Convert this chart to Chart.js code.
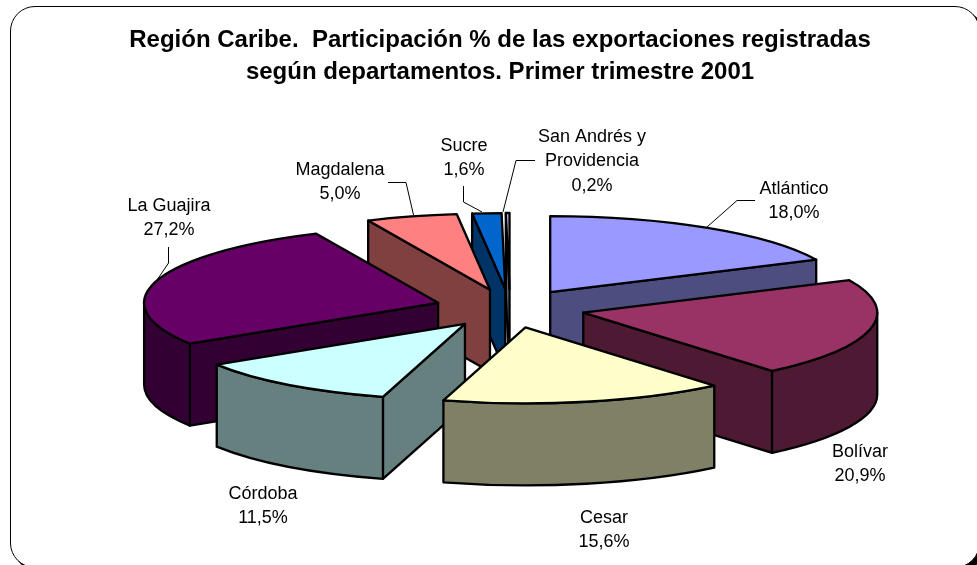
<!DOCTYPE html>
<html>
<head>
<meta charset="utf-8">
<title>Región Caribe</title>
<script src="https://cdn.jsdelivr.net/npm/chart.js@4"></script>
<style>
  html, body { margin: 0; height: 100%; overflow: hidden; background: #fff; }
  #frame { position: absolute; left: 10px; top: 6px; width: 970px; height: 562px; box-sizing: border-box;
           background: #fff; border: 1.5px solid #000; border-radius: 25px; box-shadow: 4px 4px 0 #000; }
  #chart { position: absolute; left: 0; top: 0; }
</style>
</head>
<body>
<div id="frame"></div>
<canvas id="chart" width="977" height="565"></canvas>
<script>
// Datos
const categories = ['Atlántico', 'Bolívar', 'Cesar', 'Córdoba', 'La Guajira', 'Magdalena', 'Sucre', 'San Andrés y\nProvidencia'];
const shares = [18.0, 20.9, 15.6, 11.5, 27.2, 5.0, 1.6, 0.2];
const sliceColors = ['#9999FF', '#993366', '#FFFFCC', '#CCFFFF', '#660066', '#FF8080', '#0066CC', '#CCCCFF'];
const sideColors = ['#4D4D80', '#4D1933', '#808066', '#668080', '#330033', '#804040', '#003366', '#666680'];
const titleLines = ['Región Caribe.  Participación % de las exportaciones registradas', 'según departamentos. Primer trimestre 2001'];

// Posicion de cada rotulo (centro de la primera linea) y su linea guia
const labelAnchors = [[794, 189], [860, 452], [604, 518], [263, 494], [169, 206], [340, 170], [464, 146], [592, 137]];
const leaders = [
  [[755, 200.5], [737, 200.5], [707, 227]],
  null,
  null,
  null,
  [[168.5, 247], [168.5, 263], [157, 280]],
  [[388, 182.5], [406, 182.5], [413.5, 215]],
  [[463.5, 186], [463.5, 202], [482, 212]],
  [[535, 160.5], [516, 160.5], [503, 212]]
];

// Geometria del pastel 3D
const tilt = 0.2585;
const explode = 75;
const depth = 82;
const shiftX = 10;

function faceStroke(ctx, color) {
  ctx.fillStyle = color;
  ctx.fill();
  ctx.stroke();
}

function drawSlice(ctx, arc, index) {
  const R = arc.outerRadius;
  const a0 = arc.startAngle;
  const a1 = arc.endAngle;
  const mid = (a0 + a1) / 2;
  const tx = arc.x + shiftX + explode * Math.cos(mid);
  const ty = arc.y + explode * Math.sin(mid) * tilt;

  const radialWall = (a) => {
    const ex = tx + R * Math.cos(a);
    const ey = ty + R * Math.sin(a) * tilt;
    ctx.beginPath();
    ctx.moveTo(tx, ty);
    ctx.lineTo(ex, ey);
    ctx.lineTo(ex, ey + depth);
    ctx.lineTo(tx, ty + depth);
    ctx.closePath();
    faceStroke(ctx, sideColors[index]);
  };

  // solo las caras que miran al frente
  if (Math.cos(a0) < 0) radialWall(a0);
  if (Math.cos(a1) > 0) radialWall(a1);

  const r0 = Math.max(a0, 0);
  const r1 = Math.min(a1, Math.PI);
  if (r1 > r0) {
    ctx.beginPath();
    ctx.ellipse(tx, ty, R, R * tilt, 0, r0, r1);
    ctx.ellipse(tx, ty + depth, R, R * tilt, 0, r1, r0, true);
    ctx.closePath();
    faceStroke(ctx, sideColors[index]);
  }

  ctx.beginPath();
  ctx.moveTo(tx, ty);
  ctx.ellipse(tx, ty, R, R * tilt, 0, a0, a1);
  ctx.closePath();
  faceStroke(ctx, sliceColors[index]);
}

const pie3d = {
  id: 'pie3d',
  beforeDatasetsDraw(chart) {
    const ctx = chart.ctx;
    const arcs = chart.getDatasetMeta(0).data;
    const order = arcs.map((arc, i) => i).sort((a, b) => {
      const mid = (arc) => (arc.startAngle + arc.endAngle) / 2;
      return Math.sin(mid(arcs[a])) - Math.sin(mid(arcs[b]));
    });
    ctx.save();
    ctx.strokeStyle = '#000';
    ctx.lineWidth = 2.3;
    ctx.lineJoin = 'round';
    order.forEach((i) => drawSlice(ctx, arcs[i], i));
    ctx.restore();
    return false;
  },
  afterDraw(chart) {
    const ctx = chart.ctx;
    ctx.save();
    ctx.strokeStyle = '#000';
    ctx.lineWidth = 1;
    leaders.forEach((points) => {
      if (!points) return;
      ctx.beginPath();
      points.forEach((p, i) => (i ? ctx.lineTo(p[0], p[1]) : ctx.moveTo(p[0], p[1])));
      ctx.stroke();
    });
    ctx.fillStyle = '#000';
    ctx.font = '18px "Liberation Sans"';
    ctx.textAlign = 'center';
    ctx.textBaseline = 'middle';
    categories.forEach((name, i) => {
      const lines = name.split('\n');
      lines.push(shares[i].toFixed(1).replace('.', ',') + '%');
      lines.forEach((line, k) => ctx.fillText(line, labelAnchors[i][0], labelAnchors[i][1] + k * 24.3));
    });
    ctx.restore();
  }
};

new Chart(document.getElementById('chart'), {
  type: 'pie',
  data: {
    labels: categories,
    datasets: [{ data: shares, backgroundColor: sliceColors, borderColor: '#000', borderWidth: 2 }]
  },
  options: {
    responsive: false,
    animation: false,
    radius: 294,
    layout: { padding: { left: 23, bottom: 47 } },
    plugins: {
      legend: { display: false },
      title: {
        display: true,
        text: titleLines,
        color: '#000',
        font: { family: '"Liberation Sans"', size: 24, weight: 'bold', lineHeight: 1.35 },
        padding: { top: 24, bottom: 10 }
      }
    }
  },
  plugins: [pie3d]
});
</script>
</body>
</html>
